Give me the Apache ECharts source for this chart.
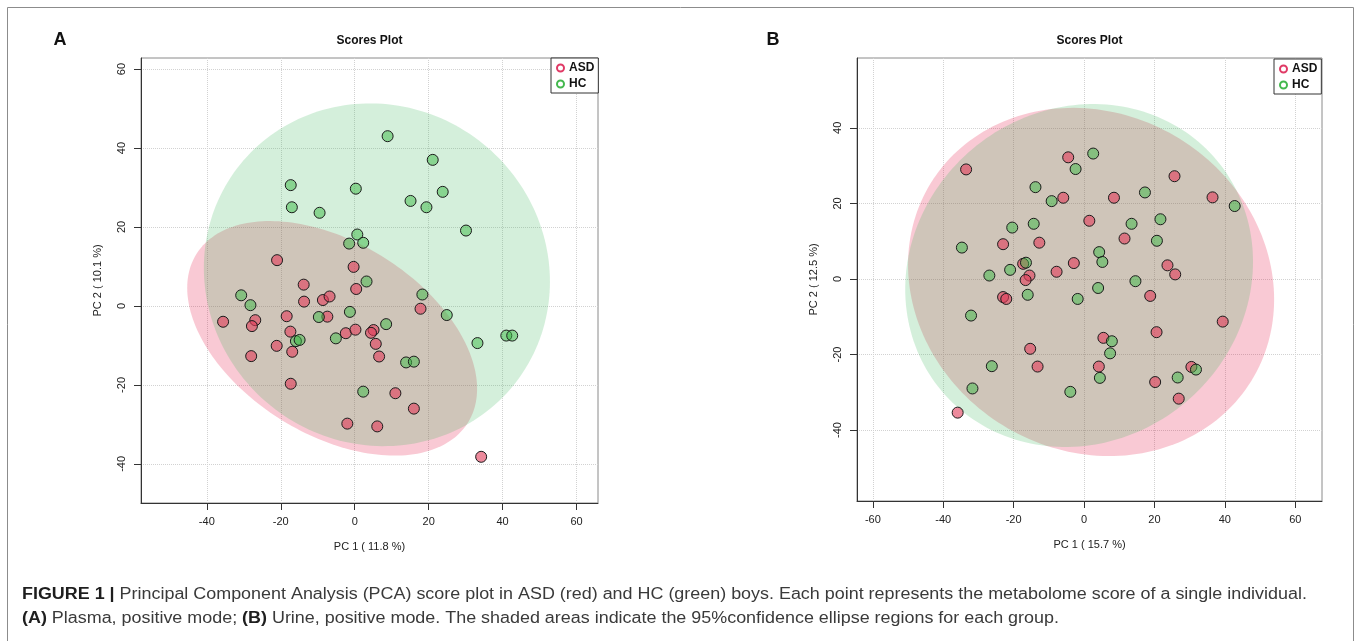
<!DOCTYPE html>
<html>
<head>
<meta charset="utf-8">
<script src="https://cdn.jsdelivr.net/npm/echarts@6/dist/echarts.min.js"></script>
<style>
html,body{margin:0;padding:0;background:#fff;}
#c{width:1357px;height:641px;}
</style>
</head>
<body>
<div id="c"></div>
<script>
// ---------- Panel A : plasma, positive mode (PC1, PC2 scores) ----------
const asdA = [[-21.0,11.6],[-0.3,9.9],[-13.8,5.4],[-13.7,1.1],[-8.6,1.5],[-6.8,2.4],[-18.4,-2.6],[-7.4,-2.7],
  [-35.6,-4.0],[-26.9,-3.6],[-27.8,-5.1],[-17.4,-6.5],[-2.4,-6.9],[0.2,-6.0],[-21.1,-10.1],[-16.9,-11.6],
  [-28.0,-12.7],[0.4,4.3],[-17.3,-19.7],[-2.0,-29.8],[17.8,-0.7],[5.1,-6.1],[4.4,-6.8],[5.7,-9.6],
  [6.6,-12.8],[11.0,-22.1],[16.0,-26.0],[6.1,-30.5],[34.2,-38.2]];
const hcA = [[-17.3,30.6],[-17.0,25.0],[-9.5,23.6],[0.3,29.7],[0.7,18.1],[-1.5,15.8],[8.9,43.0],[21.1,37.0],
  [23.8,28.9],[15.1,26.6],[19.4,25.0],[30.1,19.1],[2.3,16.0],[3.2,6.2],[-30.7,2.7],[-28.2,0.2],[-9.7,-2.8],
  [-1.3,-1.5],[-15.9,-8.9],[-14.9,-8.6],[-5.1,-8.2],[2.3,-21.7],[18.3,2.9],[24.9,-2.3],[8.5,-4.6],
  [13.9,-14.3],[16.0,-14.1],[33.2,-9.4],[41.0,-7.5],[42.6,-7.5]];

// ---------- Panel B : urine, positive mode ----------
const asdB = [[-33.5,29.0],[-4.5,32.2],[25.7,27.2],[-5.9,21.5],[8.5,21.5],[36.5,21.6],[1.5,15.4],[11.5,10.7],
  [-23.0,9.2],[-12.7,9.6],[-17.3,4.0],[-2.9,4.2],[23.7,3.6],[-7.8,1.9],[-15.5,0.9],[-16.6,-0.3],[25.9,1.2],
  [-23.0,-4.8],[-22.1,-5.3],[18.8,-4.5],[39.4,-11.3],[20.6,-14.1],[5.5,-15.6],[-15.3,-18.5],[-13.2,-23.2],
  [4.2,-23.2],[30.5,-23.3],[20.2,-27.3],[26.9,-31.7],[-35.9,-35.4]];
const hcB = [[2.6,33.2],[-2.4,29.1],[-13.8,24.3],[-9.2,20.6],[17.3,22.9],[42.8,19.3],[-20.4,13.6],[-14.3,14.6],
  [13.5,14.6],[21.7,15.8],[20.7,10.1],[-34.7,8.3],[4.3,7.1],[5.2,4.5],[-16.5,4.3],[-21.0,2.4],[-26.9,0.9],
  [14.6,-0.6],[4.0,-2.4],[-16.0,-4.2],[-1.8,-5.3],[-32.1,-9.7],[7.9,-16.5],[7.4,-19.7],[-26.2,-23.1],
  [31.8,-24.0],[-31.7,-29.0],[-3.9,-29.9],[4.5,-26.2],[26.6,-26.1]];

// 95% confidence ellipses: [centre x, centre y, x half-extent, y half-extent, correlation]
const ellipseA_ASD = [-6.1, -8.2, 39.2, 29.7, -0.43];
const ellipseA_HC  = [6.0, 7.9, 46.8, 43.4, -0.04];
const ellipseB_ASD = [2.0, -0.8, 52.0, 46.1, -0.10];
const ellipseB_HC  = [-1.4, 0.9, 49.4, 45.4, 0.08];

// axis ranges and tick labels
const rangeA_x = [-57.8, 65.8];
const rangeA_y = [-49.9, 62.8];
const rangeB_x = [-64.5, 67.6];
const rangeB_y = [-58.8, 58.5];
const ticksA_x = [-40, -20, 0, 20, 40, 60];
const ticksA_y = [-40, -20, 0, 20, 40, 60];
const ticksB_x = [-60, -40, -20, 0, 20, 40, 60];
const ticksB_y = [-40, -20, 0, 20, 40];

const groupNames = ['ASD', 'HC'];
const axisNamesA = ['PC 1 ( 11.8 %)', 'PC 2 ( 10.1 %)'];
const axisNamesB = ['PC 1 ( 15.7 %)', 'PC 2 ( 12.5 %)'];

// ---------- styling ----------
const FONT = '"Liberation Sans", Arial, Helvetica, sans-serif';
const ptFill = { ASD: 'rgba(225,60,90,0.6)', HC: 'rgba(60,185,70,0.5)' };
const ellFill = { ASD: 'rgba(225,0,50,0.21)', HC: 'rgba(60,180,90,0.22)' };
const legendColor = { ASD: '#e03a66', HC: '#44b84e' };

function xAxisCfg(gi, range, ticks, name) {
  return {
    gridIndex: gi, type: 'value', min: range[0], max: range[1],
    name: name, nameLocation: 'middle', nameGap: 38,
    nameTextStyle: { fontSize: 11, color: '#222', fontFamily: FONT },
    axisLine: { show: true, onZero: false, lineStyle: { color: '#333', width: 1 } },
    axisTick: { show: true, inside: false, length: 7, customValues: ticks, lineStyle: { color: '#333' } },
    axisLabel: { customValues: ticks, fontSize: 11, color: '#222', margin: 13, fontFamily: FONT },
    splitLine: { show: true, lineStyle: { color: '#d2d2d2', type: 'dotted', width: 1 } }
  };
}
function yAxisCfg(gi, range, ticks, name) {
  return {
    gridIndex: gi, type: 'value', min: range[0], max: range[1],
    name: name, nameLocation: 'middle', nameGap: 38, nameRotate: 90,
    nameTextStyle: { fontSize: 11, color: '#222', fontFamily: FONT },
    axisLine: { show: true, onZero: false, lineStyle: { color: '#333', width: 1 } },
    axisTick: { show: true, inside: false, length: 7, customValues: ticks, lineStyle: { color: '#333' } },
    axisLabel: { customValues: ticks, fontSize: 11, color: '#222', margin: 14, rotate: 90, fontFamily: FONT },
    splitLine: { show: true, lineStyle: { color: '#d2d2d2', type: 'dotted', width: 1 } }
  };
}
function ellipseSeries(name, params, idx) {
  return {
    type: 'custom', name: name + ' ellipse', xAxisIndex: idx, yAxisIndex: idx,
    silent: true, clip: true, z: 1, data: [params],
    renderItem: function (p, api) {
      const cx = api.value(0), cy = api.value(1), a = api.value(2), b = api.value(3), r = api.value(4);
      const s = Math.sqrt(1 - r * r);
      const pts = [];
      for (let i = 0; i < 200; i++) {
        const t = i / 200 * 2 * Math.PI;
        pts.push(api.coord([cx + a * Math.cos(t), cy + b * (r * Math.cos(t) + s * Math.sin(t))]));
      }
      return { type: 'polygon', shape: { points: pts }, style: { fill: ellFill[name], stroke: null } };
    }
  };
}
function scatterSeries(name, data, idx) {
  return {
    type: 'scatter', name: name, xAxisIndex: idx, yAxisIndex: idx, data: data, z: 3,
    symbol: 'circle', symbolSize: 11,
    itemStyle: { color: ptFill[name], borderColor: '#1b1b1b', borderWidth: 1, opacity: 1 },
    emphasis: { disabled: true }
  };
}
function legendCfg(left, top) {
  return {
    left: left, top: top, orient: 'vertical', itemWidth: 7, itemHeight: 7, itemGap: 4,
    padding: [4, 4, 3, 5], borderColor: '#333', borderWidth: 1, backgroundColor: '#fff',
    selectedMode: false,
    textStyle: { fontSize: 12, fontWeight: 'bold', color: '#111', fontFamily: FONT },
    data: groupNames.map(n => ({ name: n, icon: 'emptyCircle',
      itemStyle: { color: legendColor[n], borderColor: legendColor[n], borderWidth: 1.4 } }))
  };
}

const option = {
  animation: false,
  backgroundColor: '#fff',
  grid: [
    { left: 141, top: 58, width: 457, height: 445, show: true, borderColor: '#8a8a8a', borderWidth: 1, backgroundColor: 'transparent' },
    { left: 857, top: 58, width: 465, height: 443, show: true, borderColor: '#8a8a8a', borderWidth: 1, backgroundColor: 'transparent' }
  ],
  xAxis: [xAxisCfg(0, rangeA_x, ticksA_x, axisNamesA[0]), xAxisCfg(1, rangeB_x, ticksB_x, axisNamesB[0])],
  yAxis: [yAxisCfg(0, rangeA_y, ticksA_y, axisNamesA[1]), yAxisCfg(1, rangeB_y, ticksB_y, axisNamesB[1])],
  legend: [legendCfg(551, 58), legendCfg(1274, 59)],
  series: [
    ellipseSeries('ASD', ellipseA_ASD, 0),
    ellipseSeries('HC', ellipseA_HC, 0),
    ellipseSeries('ASD', ellipseB_ASD, 1),
    ellipseSeries('HC', ellipseB_HC, 1),
    scatterSeries('ASD', asdA, 0),
    scatterSeries('HC', hcA, 0),
    scatterSeries('ASD', asdB, 1),
    scatterSeries('HC', hcB, 1)
  ],
  graphic: [
    { type: 'rect', silent: true, shape: { x: 7.5, y: 7.5, width: 1346, height: 645 },
      style: { fill: null, stroke: '#8c8c8c', lineWidth: 1 } },
    { type: 'text', x: 60, y: 40, style: { text: 'A', font: 'bold 18px ' + FONT, fill: '#111', align: 'center', verticalAlign: 'middle' } },
    { type: 'text', x: 773, y: 40, style: { text: 'B', font: 'bold 18px ' + FONT, fill: '#111', align: 'center', verticalAlign: 'middle' } },
    { type: 'text', x: 369.5, y: 41, style: { text: 'Scores Plot', font: 'bold 12px ' + FONT, fill: '#111', align: 'center', verticalAlign: 'middle' } },
    { type: 'text', x: 1089.5, y: 41, style: { text: 'Scores Plot', font: 'bold 12px ' + FONT, fill: '#111', align: 'center', verticalAlign: 'middle' } },
    { type: 'text', x: 22, y: 595, scaleX: 1.12, originX: 0,
      style: { text: '{b|FIGURE 1 |} Principal Component Analysis (PCA) score plot in ASD (red) and HC (green) boys. Each point represents the metabolome score of a single individual.',
        font: '16px ' + FONT, fill: '#3a3a3a', align: 'left', verticalAlign: 'middle',
        rich: { b: { fontWeight: 'bold', fontSize: 16, fontFamily: FONT, fill: '#1e1e1e' } } } },
    { type: 'text', x: 22, y: 619, scaleX: 1.12, originX: 0,
      style: { text: '{b|(A)} Plasma, positive mode; {b|(B)} Urine, positive mode. The shaded areas indicate the 95%confidence ellipse regions for each group.',
        font: '16px ' + FONT, fill: '#3a3a3a', align: 'left', verticalAlign: 'middle',
        rich: { b: { fontWeight: 'bold', fontSize: 16, fontFamily: FONT, fill: '#1e1e1e' } } } }
  ]
};

const chart = echarts.init(document.getElementById('c'), null, { renderer: 'canvas' });
chart.setOption(option);
</script>
</body>
</html>
